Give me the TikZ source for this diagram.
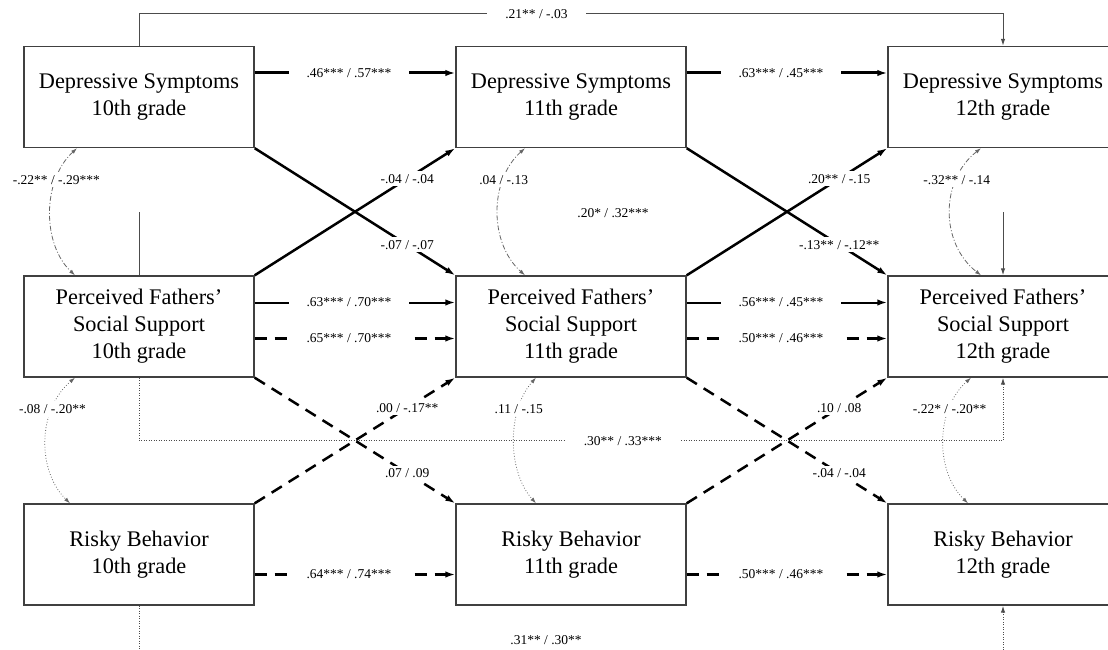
\documentclass[tikz,border=0pt]{standalone}
\usepackage{fontspec}
\setmainfont{Liberation Serif}
\usetikzlibrary{arrows.meta}

\begin{document}
\begin{tikzpicture}[x=1pt,y=-1pt,>={Latex[length=10pt,width=6.5pt]},
    box/.style={draw=black!75,line width=1.4pt,minimum width=230pt,minimum height=101pt,
        inner sep=0pt,align=center,font=\fontsize{22.3}{27}\selectfont},
    coef/.style={fill=white,text=black,inner sep=3pt,font=\fontsize{13.5}{15}\selectfont},
    gapcoef/.style={coef,inner xsep=18pt},
    dashline/.style={line width=2.5pt,dash pattern=on 12pt off 8pt},
    thinline/.style={black!70,line width=1pt},
    dotline/.style={black!70,line width=1pt,dash pattern=on 1pt off 1.5pt},
    thintip/.style={-{Latex[length=7pt,width=4.5pt]}},
    covar/.style={black!60,line width=0.8pt,{Latex[length=6pt,width=4pt]}-{Latex[length=6pt,width=4pt]}}]

    \useasboundingbox (0,0) rectangle (1108,650);
    \clip (0,0) rectangle (1108,650);

    % Boxes, one column per grade
    \node [box] (ds10) at (139,97) {Depressive Symptoms\\10th grade};
    \node [box] (ds11) at (571,97) {Depressive Symptoms\\11th grade};
    \node [box] (ds12) at (1003,97) {Depressive Symptoms\\12th grade};
    \node [box] (pf10) at (139,326.5) {Perceived Fathers’\\Social Support\\10th grade};
    \node [box] (pf11) at (571,326.5) {Perceived Fathers’\\Social Support\\11th grade};
    \node [box] (pf12) at (1003,326.5) {Perceived Fathers’\\Social Support\\12th grade};
    \node [box] (rb10) at (139,554.5) {Risky Behavior\\10th grade};
    \node [box] (rb11) at (571,554.5) {Risky Behavior\\11th grade};
    \node [box] (rb12) at (1003,554.5) {Risky Behavior\\12th grade};

    % Free ends of the cut paths
    \coordinate (ssL) at (139,212);
    \coordinate (ssR) at (1003,212);
    \coordinate (rbL) at (139,650);
    \coordinate (rbR) at (1003,650);

    % Second-order paths 10th -> 12th grade
    \draw [thinline,thintip] (ds10.north) -- ++(0,-32) -| node [gapcoef,pos=0.23] {.21** / -.03} (ds12.north);
    \draw [dotline,thintip] (pf10.south) -- ++(0,63) -| node [gapcoef,pos=0.28] {.30** / .33***} (pf12.south);
    \draw [thinline] (pf10.north) -- (ssL);
    \draw [thinline,thintip] (ssR) -- (pf12.north);
    \node [coef] (sslbl) at (613,213) {.20* / .32***};
    \draw [dotline] (rb10.south) -- (rbL);
    \draw [dotline,thintip] (rbR) -- (rb12.south);
    \node [coef] (rblbl) at (546,640) {.31** / .30**};

    % Stability paths
    \draw [->,line width=3pt] ([yshift=24pt]ds10.east) -- node [gapcoef,pos=0.47] {.46*** / .57***} ([yshift=24pt]ds11.west);
    \draw [->,line width=3pt] ([yshift=24pt]ds11.east) -- node [gapcoef,pos=0.47] {.63*** / .45***} ([yshift=24pt]ds12.west);
    \draw [->,line width=2pt] ([yshift=24pt]pf10.east) -- node [gapcoef,pos=0.47] {.63*** / .70***} ([yshift=24pt]pf11.west);
    \draw [->,line width=2pt] ([yshift=24pt]pf11.east) -- node [gapcoef,pos=0.47] {.56*** / .45***} ([yshift=24pt]pf12.west);
    \draw [->,dashline] ([yshift=-12pt]pf10.east) -- node [gapcoef,pos=0.47] {.65*** / .70***} ([yshift=-12pt]pf11.west);
    \draw [->,dashline] ([yshift=-12pt]pf11.east) -- node [gapcoef,pos=0.47] {.50*** / .46***} ([yshift=-12pt]pf12.west);
    \draw [->,dashline] ([yshift=-20pt]rb10.east) -- node [gapcoef,pos=0.47] {.64*** / .74***} ([yshift=-20pt]rb11.west);
    \draw [->,dashline] ([yshift=-20pt]rb11.east) -- node [gapcoef,pos=0.47] {.50*** / .46***} ([yshift=-20pt]rb12.west);

    % Cross-lagged paths, depressive symptoms and support
    \draw [->,line width=2.5pt] (ds10.south east) -- node [coef,pos=0.76] {-.07 / -.07} (pf11.north west);
    \draw [->,line width=2.5pt] (pf10.north east) -- node [coef,pos=0.76] {-.04 / -.04} (ds11.south west);
    \draw [->,line width=2.5pt] (ds11.south east) -- node [coef,pos=0.76] {-.13** / -.12**} (pf12.north west);
    \draw [->,line width=2.5pt] (pf11.north east) -- node [coef,pos=0.76] {.20** / -.15} (ds12.south west);

    % Cross-lagged paths, support and risky behavior
    \draw [->,dashline] (pf10.south east) -- node [coef,pos=0.76] {.07 / .09} (rb11.north west);
    \draw [->,dashline] (rb10.north east) -- node [coef,pos=0.76] {.00 / -.17**} (pf11.south west);
    \draw [->,dashline] (pf11.south east) -- node [coef,pos=0.76] {-.04 / -.04} (rb12.north west);
    \draw [->,dashline] (rb11.north east) -- node [coef,pos=0.76] {.10 / .08} (pf12.south west);

    % Within-grade covariances
    \draw [covar,dash pattern=on 5pt off 2pt on 1pt off 2pt] ([xshift=-62pt]ds10.south) .. controls +(-35,32) and +(-33,-31) .. node [coef,pos=0.27] {-.22** / -.29***} ([xshift=-64pt]pf10.north);
    \draw [covar,dash pattern=on 5pt off 2pt on 1pt off 2pt] ([xshift=-46pt]ds11.south) .. controls +(-36,32) and +(-36,-32) .. node [coef,pos=0.27] {.04 / -.13} ([xshift=-46pt]pf11.north);
    \draw [covar,dash pattern=on 5pt off 2pt on 1pt off 2pt] ([xshift=-22pt]ds12.south) .. controls +(-41,32) and +(-41,-32) .. node [coef,pos=0.27] {-.32** / -.14} ([xshift=-22pt]pf12.north);
    \draw [covar,dotted] ([xshift=-64pt]pf10.south) .. controls +(-38,32) and +(-33,-32) .. node [coef,pos=0.27] {-.08 / -.20**} ([xshift=-69pt]rb10.north);
    \draw [covar,dotted] ([xshift=-35pt]pf11.south) .. controls +(-29,32) and +(-29,-32) .. node [coef,pos=0.27] {.11 / -.15} ([xshift=-35pt]rb11.north);
    \draw [covar,dotted] ([xshift=-32pt]pf12.south) .. controls +(-36,32) and +(-33,-32) .. node [coef,pos=0.27] {-.22* / -.20**} ([xshift=-35pt]rb12.north);

\end{tikzpicture}
\end{document}
